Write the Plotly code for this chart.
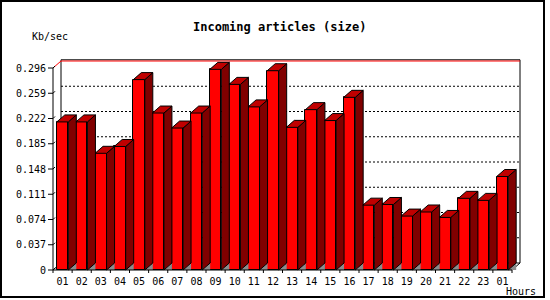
import plotly.graph_objects as go

# ---------------- data ----------------
hours = ["01", "02", "03", "04", "05", "06", "07", "08", "09", "10", "11", "12",
         "13", "14", "15", "16", "17", "18", "19", "20", "21", "22", "23", "01"]
kb_per_sec = [0.217, 0.217, 0.171, 0.181, 0.279, 0.230, 0.208, 0.230, 0.294, 0.272,
              0.239, 0.292, 0.209, 0.235, 0.219, 0.253, 0.095, 0.096, 0.079, 0.085,
              0.077, 0.105, 0.102, 0.137]
y_ticks = [0, 0.037, 0.074, 0.111, 0.148, 0.185, 0.222, 0.259, 0.296]
y_tick_text = ["0", "0.037", "0.074", "0.111", "0.148", "0.185", "0.222", "0.259", "0.296"]
y_max = 0.296

# ---------------- geometry (pixels) ----------------
W, H = 550, 300
PL, PR, PT, PB = 50, 523, 57, 274          # plot area in px
X0_PX, Y0_PX, YTOP_PX = 53, 270, 68        # front axis origin and top
SLOT = 19.125                              # px per category
PPY = (Y0_PX - YTOP_PX) / y_max            # px per unit
DX = 8 / SLOT                              # depth in x (data units)
DY = 7 / PPY                               # depth in y (data units)
BW = 0.6                                   # front face width

n = len(kb_per_sec)
xs = list(range(n))
x_lo, x_hi = -0.5, n - 0.5
x_range = [x_lo - (X0_PX - PL) / SLOT, x_lo + (PR - X0_PX) / SLOT]
y_range = [(Y0_PX - PB) / PPY, (Y0_PX - PT) / PPY]


def px_x(p):
    return (p - PL) / (PR - PL)


def px_y(p):
    return (PB - p) / (PB - PT)


FONT = "DejaVu Sans Mono"
fig = go.Figure()

# front faces
fig.add_trace(go.Bar(x=xs, y=kb_per_sec, width=BW,
                     marker=dict(color="#ff0000", line=dict(color="black", width=1)),
                     hoverinfo="skip"))

# floor triangles, sides, tops
fx, fy, sx, sy, tx, ty = [], [], [], [], [], []
for i, v in zip(xs, kb_per_sec):
    r = i + BW / 2
    l = i - BW / 2
    fx += [r, r + DX, r + DX, r, None]
    fy += [0, 0, DY, 0, None]
    sx += [r, r, r + DX, r + DX, r, None]
    sy += [0, v, v + DY, DY, 0, None]
    tx += [l, r, r + DX, l + DX, l, None]
    ty += [v, v, v + DY, v + DY, v, None]

fig.add_trace(go.Scatter(x=fx, y=fy, mode="lines", fill="toself", fillcolor="#8c8c8c",
                         line=dict(width=0, color="#8c8c8c"), hoverinfo="skip"))
fig.add_trace(go.Scatter(x=sx, y=sy, mode="lines", fill="toself", fillcolor="#800000",
                         line=dict(width=1, color="black"), hoverinfo="skip"))
fig.add_trace(go.Scatter(x=tx, y=ty, mode="lines", fill="toself", fillcolor="#c00000",
                         line=dict(width=1, color="black"), hoverinfo="skip"))

# ---------------- walls, grid, axes (shapes below traces) ----------------
shapes = []
top_v = y_max + DY + 1.2 / PPY


def seg(x0, y0, x1, y1, color="black", width=1, dash="solid", layer="below"):
    shapes.append(dict(type="line", xref="x", yref="y", x0=x0, y0=y0, x1=x1, y1=y1,
                       line=dict(color=color, width=width, dash=dash), layer=layer))


# dotted grid on back wall
for v in y_ticks[1:-1]:
    seg(x_lo + DX, v + DY, x_hi + DX, v + DY, dash="2px,2px")
# back wall outline
seg(x_lo + DX, DY, x_lo + DX, top_v)
seg(x_lo + DX, top_v, x_hi + DX, top_v)
seg(x_hi + DX, DY, x_hi + DX, top_v)
seg(x_lo + DX, DY, x_hi + DX, DY)
seg(x_lo, 0, x_lo + DX, DY)
seg(x_hi, 0, x_hi + DX, DY)
# red max line
seg(x_lo, y_max, x_lo + DX, y_max + DY, color="#ff0000")
seg(x_lo + DX, y_max + DY, x_hi + DX, y_max + DY, color="#ff0000")
# front axes
seg(x_lo, 0, x_lo, y_max, layer="above")
seg(x_lo, 0, x_hi, 0, layer="above")
# x ticks at slot boundaries
for k in range(n + 1):
    seg(x_lo + k, 0, x_lo + k, -3 / PPY, layer="above")
# small diagonal y tick marks on left wall
for v in y_ticks:
    seg(x_lo, v, x_lo + 2 / SLOT, v + 2 / PPY)
# y tick marks left of the axis
for v in y_ticks:
    shapes.append(dict(type="line", xref="paper", yref="y",
                       x0=px_x(48), x1=px_x(X0_PX), y0=v, y1=v,
                       line=dict(color="black", width=1)))
# outer border
shapes.append(dict(type="rect", xref="paper", yref="paper",
                   x0=px_x(1), x1=px_x(544), y0=px_y(1), y1=px_y(297),
                   line=dict(color="black", width=2)))

annotations = [
    dict(text="<b>Incoming articles (size)</b>", xref="paper", yref="paper",
         x=px_x(279), y=px_y(27), xanchor="center", yanchor="middle", showarrow=False,
         font=dict(family=FONT, size=12, color="black")),
    dict(text="Kb/sec", xref="paper", yref="paper", x=px_x(30), y=px_y(37),
         xanchor="left", yanchor="middle", showarrow=False,
         font=dict(family=FONT, size=10, color="black")),
    dict(text="Hours", xref="paper", yref="paper", x=px_x(504), y=px_y(291),
         xanchor="left", yanchor="middle", showarrow=False,
         font=dict(family=FONT, size=10, color="black")),
]

fig.update_layout(
    width=W, height=H,
    margin=dict(l=PL, r=W - PR, t=PT, b=H - PB, pad=0),
    paper_bgcolor="white", plot_bgcolor="white",
    showlegend=False, bargap=0,
    shapes=shapes, annotations=annotations,
    xaxis=dict(range=x_range, showgrid=False, zeroline=False, showline=False,
               tickmode="array", tickvals=xs, ticktext=hours, ticks="",
               tickfont=dict(family=FONT, size=10, color="black"), fixedrange=True),
    yaxis=dict(range=y_range, showgrid=False, zeroline=False, showline=False,
               tickmode="array", tickvals=y_ticks, ticktext=y_tick_text, ticks="",
               ticklabelstandoff=3,
               tickfont=dict(family=FONT, size=10, color="black"), fixedrange=True),
)

fig.write_html("out.html", config={"displayModeBar": False})
